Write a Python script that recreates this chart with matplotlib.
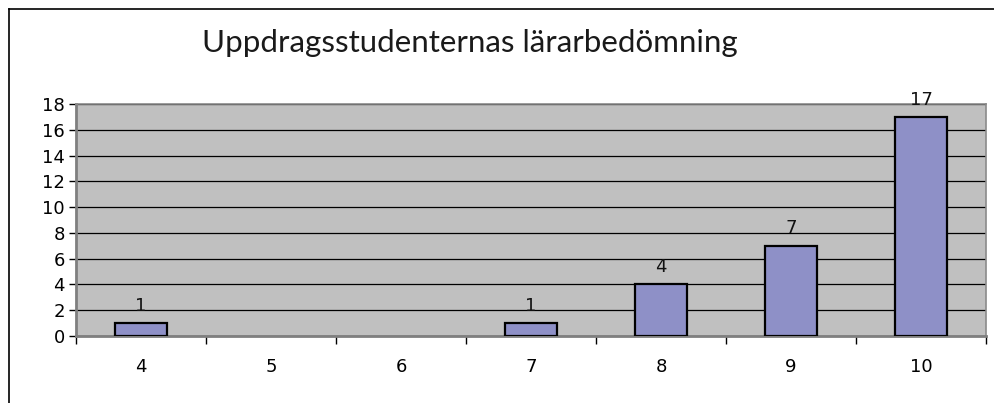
import numpy as np
import matplotlib.pyplot as plt
from matplotlib.lines import Line2D

# data
grades = ['4', '5', '6', '7', '8', '9', '10']
counts = [1, 0, 0, 1, 4, 7, 17]
title = 'Uppdragsstudenternas lärarbedömning'

bar_color = '#8E90C7'
bg_color = '#C0C0C0'
dpi = 100

fig = plt.figure(figsize=(9.95, 4.03), dpi=dpi)
ax = fig.add_axes([76 / 995, 1 - 336 / 403, 910 / 995, 232 / 403])
ax.set_facecolor(bg_color)

x = np.arange(len(grades))
edge_w = [1.6 if c > 0 else 0 for c in counts]
ax.bar(x, counts, width=0.4, color=bar_color, edgecolor='black', linewidth=edge_w, zorder=3)

for xi, c in zip(x, counts):
    if c > 0:
        ax.annotate(str(c), (xi, c), xytext=(0, 6), textcoords='offset points',
                    ha='center', va='bottom', fontsize=13, color='#111111')

ax.set_xlim(-0.5, len(grades) - 0.5)
ax.set_ylim(0, 18)
ax.set_yticks(np.arange(0, 19, 2))
ax.yaxis.grid(True, color='black', linewidth=0.9, zorder=1)
ax.set_axisbelow(True)

# category ticks at the boundaries, labels in the middle
ax.set_xticks(np.arange(-0.5, len(grades), 1.0))
ax.set_xticklabels([])
ax.set_xticks(x, minor=True)
ax.set_xticklabels(grades, minor=True)
ax.tick_params(axis='x', which='major', length=6, width=1, color='black', direction='out')
ax.tick_params(axis='x', which='minor', length=0, pad=16, labelsize=13)
ax.tick_params(axis='y', length=5, width=1, color='black', direction='out', labelsize=13, pad=3)

for side in ['left', 'bottom']:
    ax.spines[side].set_color('#7F7F7F')
    ax.spines[side].set_linewidth(2.0)
for side in ['top', 'right']:
    ax.spines[side].set_color('#8A8A8A')
    ax.spines[side].set_linewidth(1.2)

fig.text(470 / 995, 1 - 43 / 403, title, ha='center', va='center', fontsize=22.5,
         family='Lato', color='#1a1a1a')

# outer frame (left and top edges visible)
fig.add_artist(Line2D([9 / 995, 9 / 995], [0, 1 - 9 / 403], color='black', linewidth=1.2))
fig.add_artist(Line2D([9 / 995, 1], [1 - 9 / 403, 1 - 9 / 403], color='black', linewidth=1.2))

fig.savefig('out.png', dpi=dpi)
